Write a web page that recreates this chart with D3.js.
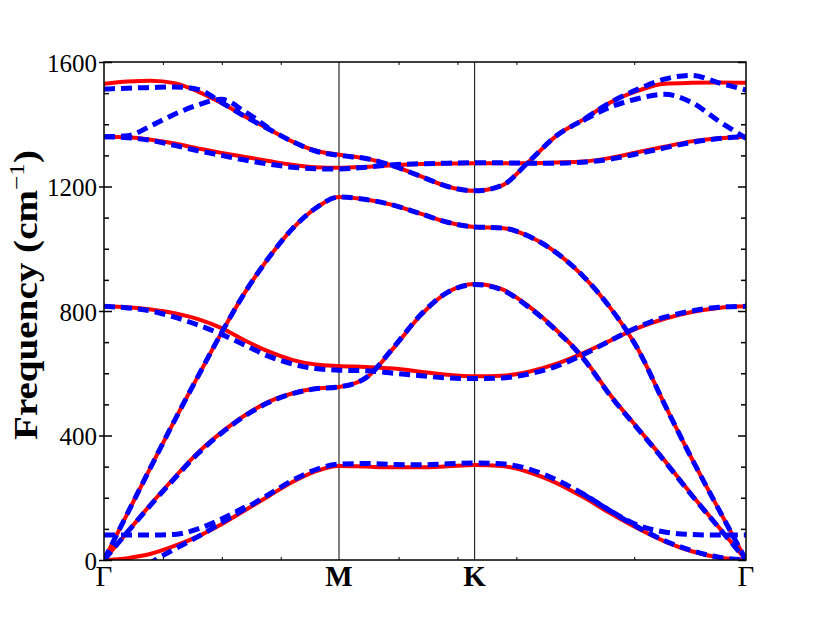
<!DOCTYPE html>
<html><head><meta charset="utf-8">
<script src="https://cdn.jsdelivr.net/npm/d3@7"></script>
<style>body{margin:0;background:#fff}svg{display:block}</style>
</head><body>
<svg id="c" width="830" height="623"></svg>
<script>
// High-symmetry points along the k-path (units of 2π/a)
const symLabels = ["Γ", "M", "K", "Γ"];
const symPos = [0, 0.5774, 0.9107, 1.5774];
// sample fractions in each segment
const segGM = [0, .1, .2, .3, .4, .5, .6, .7, .8, .9, 1];
const segMK = [.2, .4, .6, .8, 1];
const segKG = [.1, .2, .3, .4, .5, .6, .7, .8, .9, 1];
const kPath = [
  ...segGM.map(t => symPos[0] + t * (symPos[1] - symPos[0])),
  ...segMK.map(t => symPos[1] + t * (symPos[2] - symPos[1])),
  ...segKG.map(t => symPos[2] + t * (symPos[3] - symPos[2]))
];
const yTicks = [0, 400, 800, 1200, 1600];
const yMinor = [100, 200, 300, 500, 600, 700, 900, 1000, 1100, 1300, 1400, 1500];
const xMinor = [1, 2, 3, 5, 6, 7, 9].map(i => i * 0.14475);

// red (solid) branches, frequencies in cm^-1
const redZA = [0, 6, 20, 45, 76, 115, 160, 205, 250, 285, 302,
  300, 298, 298, 301, 305,
  302, 282, 248, 202, 150, 102, 60, 28, 8, 0];
const redTA = [0, 90, 180, 265, 345, 410, 465, 508, 535, 551, 556,
  585, 680, 785, 860, 887,
  870, 815, 740, 650, 530, 425, 320, 210, 105, 0];
const redLA = [0, 150, 300, 448, 590, 730, 860, 970, 1063, 1130, 1166,
  1158, 1140, 1113, 1085, 1070,
  1067, 1040, 988, 912, 810, 680, 500, 326, 162, 0];
const redZO = [815, 812, 805, 793, 774, 745, 705, 670, 643, 628, 623,
  620, 615, 605, 595, 590,
  592, 605, 630, 665, 705, 745, 775, 797, 810, 815];
const redO1 = [1360, 1358, 1350, 1338, 1322, 1308, 1295, 1282, 1270, 1262, 1260,
  1263, 1268, 1272, 1274, 1275,
  1275, 1275, 1277, 1280, 1292, 1310, 1328, 1345, 1355, 1360];
const redO2 = [1530, 1537, 1540, 1532, 1505, 1468, 1425, 1385, 1345, 1315, 1302,
  1290, 1266, 1233, 1200, 1186,
  1203, 1280, 1362, 1415, 1470, 1507, 1530, 1533, 1534, 1533];

// blue (dashed) branches; null where a branch coincides with another one
const blueZA = [-100, -60, -8, 35, 75, 120, 165, 210, 255, 290, 308,
  310, 307, 306, 309, 312,
  309, 292, 258, 212, 158, 106, 62, 30, 9, 0];
const blueLow = [80, 80, 80, 82, 100, 132, 170, null, null, null, null,
  null, null, null, null, null,
  null, null, null, 212, 158, 112, 90, 82, 80, 80];
const blueTA = [0, 90, 178, 262, 342, 408, 463, 506, 534, 550, 556,
  586, 682, 787, 860, 885,
  868, 812, 738, 648, 528, 423, 318, 208, 104, 0];
const blueLA = [0, 150, 300, 448, 590, 730, 860, 970, 1063, 1130, 1166,
  1158, 1140, 1113, 1085, 1070,
  1067, 1040, 988, 912, 810, 680, 500, 326, 162, 0];
const blueZO = [815, 810, 800, 780, 755, 725, 690, 655, 630, 615, 610,
  608, 600, 592, 585, 583,
  585, 598, 622, 660, 705, 748, 780, 800, 812, 815];
const blueO1 = [1360, 1357, 1348, 1332, 1315, 1300, 1285, 1272, 1262, 1257, 1256,
  1262, 1270, 1273, 1275, 1276,
  1276, 1275, 1275, 1278, 1288, 1305, 1324, 1342, 1354, 1360];
const blueO2 = [1513, 1516, 1518, 1520, 1512, 1470, 1425, 1385, 1345, 1314, 1300,
  1290, 1266, 1233, 1200, 1186,
  1203, 1280, 1362, 1415, 1470, 1512, 1545, 1557, 1533, 1510];
const blueO3 = [1360, 1363, 1395, 1432, 1462, 1480, 1440, 1388, null, null, null,
  null, null, null, null, null,
  null, null, null, 1412, 1455, 1482, 1496, 1470, 1410, 1355];

const redSeries = [redZA, redTA, redLA, redZO, redO1, redO2];
const blueSeries = [blueZA, blueLow, blueTA, blueLA, blueZO, blueO1, blueO2, blueO3];

const svg = d3.select("#c");
const L = 104, R = 746, T = 62, B = 560;
const x = d3.scaleLinear().domain([symPos[0], symPos[3]]).range([L, R]);
const y = d3.scaleLinear().domain([0, 1600]).range([B, T]);
const serif = "'Liberation Serif','Times New Roman',serif";

svg.append("clipPath").attr("id", "clip").append("rect")
  .attr("x", L).attr("y", T).attr("width", R - L).attr("height", B - T);

// vertical lines at M and K
svg.append("g").selectAll("line").data(symPos.slice(1, 3)).join("line")
  .attr("x1", d => x(d)).attr("x2", d => x(d)).attr("y1", T).attr("y2", B)
  .attr("stroke", "#000").attr("stroke-width", 1);

const line = d3.line().defined(d => d !== null)
  .x((d, i) => x(kPath[i])).y(d => y(d)).curve(d3.curveMonotoneX);
const gPlot = svg.append("g").attr("clip-path", "url(#clip)");
gPlot.selectAll("path.red").data(redSeries).join("path").attr("class", "red")
  .attr("d", line).attr("fill", "none").attr("stroke", "#ff0000").attr("stroke-width", 4);
gPlot.selectAll("path.blue").data(blueSeries).join("path").attr("class", "blue")
  .attr("d", line).attr("fill", "none").attr("stroke", "#0000ff").attr("stroke-width", 5)
  .attr("stroke-dasharray", "11,6");

// axes
function styleAxis(g) { g.select(".domain").remove(); g.selectAll("line").attr("stroke", "#000").attr("stroke-width", 1.5); }
const gy = svg.append("g").attr("transform", `translate(${L},0)`)
  .call(d3.axisLeft(y).tickValues(yTicks).tickSize(-8).tickPadding(7).tickFormat(d3.format("d")))
  .call(styleAxis);
gy.selectAll("text").style("font-family", serif).style("font-size", "25px").attr("fill", "#000").attr("dy", "0.36em");
svg.append("g").attr("transform", `translate(${L},0)`)
  .call(d3.axisLeft(y).tickValues(yTicks).tickSize(5).tickFormat(""))
  .call(styleAxis);
svg.append("g").attr("transform", `translate(${L},0)`)
  .call(d3.axisLeft(y).tickValues(yMinor).tickSize(-5).tickFormat(""))
  .call(styleAxis);
svg.append("g").attr("transform", `translate(${R},0)`)
  .call(d3.axisRight(y).tickValues(yTicks).tickSize(-8).tickFormat(""))
  .call(styleAxis);
svg.append("g").attr("transform", `translate(${R},0)`)
  .call(d3.axisRight(y).tickValues(yMinor).tickSize(-5).tickFormat(""))
  .call(styleAxis);
svg.append("g").attr("transform", `translate(0,${B})`)
  .call(d3.axisBottom(x).tickValues(xMinor).tickSize(-3).tickFormat(""))
  .call(g => { g.select(".domain").remove(); g.selectAll("line").attr("stroke", "#000").attr("stroke-width", 1); });
svg.append("g").attr("transform", `translate(0,${T})`)
  .call(d3.axisTop(x).tickValues(xMinor).tickSize(-3).tickFormat(""))
  .call(g => { g.select(".domain").remove(); g.selectAll("line").attr("stroke", "#000").attr("stroke-width", 1); });

// frame
svg.append("rect").attr("x", L).attr("y", T).attr("width", R - L).attr("height", B - T)
  .attr("fill", "none").attr("stroke", "#000").attr("stroke-width", 1.5);

// x labels
svg.append("g").selectAll("text").data(symLabels).join("text")
  .attr("x", (d, i) => x(symPos[i])).attr("y", 586)
  .attr("text-anchor", "middle")
  .style("font-family", serif).style("font-size", "29px")
  .style("font-weight", (d, i) => (i === 1 || i === 2) ? "bold" : "normal")
  .text(d => d);

// y label
const yl = svg.append("text").attr("transform", "translate(37,295) rotate(-90)")
  .attr("text-anchor", "middle")
  .attr("textLength", 290).attr("lengthAdjust", "spacingAndGlyphs")
  .style("font-family", serif).style("font-size", "34px").style("font-weight", "bold");
yl.append("tspan").text("Frequency (cm");
yl.append("tspan").style("font-weight", "normal").style("font-size", "22px").attr("dy", -13).text("−1");
yl.append("tspan").attr("dy", 13).text(")");
</script>
</body></html>
